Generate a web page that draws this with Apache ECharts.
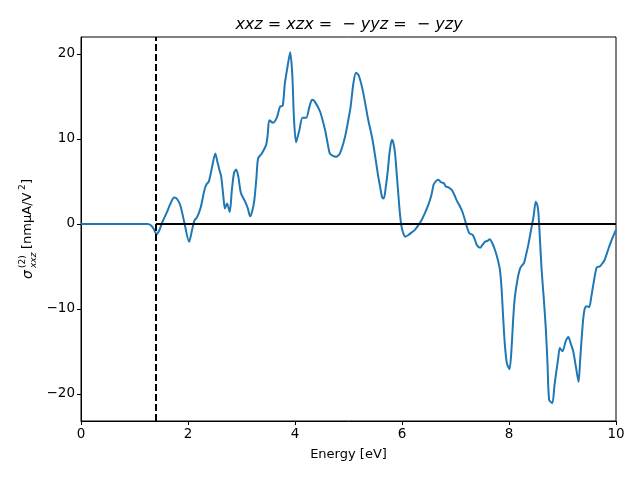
<!DOCTYPE html>
<html><head><meta charset="utf-8">
<script src="https://cdn.jsdelivr.net/npm/echarts@6/dist/echarts.min.js"></script>
<style>html,body{margin:0;padding:0;background:#fff}#c{width:640px;height:480px}</style>
</head><body><div id="c"></div>
<script>
const energy = [0,0.5,1.0,1.25,1.31,1.36,1.41,1.46,1.52,1.6,1.68,1.74,1.80,1.86,1.93,2.02,2.08,2.12,2.17,2.24,2.3,2.34,2.39,2.45,2.51,2.55,2.59,2.62,2.66,2.69,2.73,2.78,2.82,2.86,2.90,2.94,2.99,3.07,3.12,3.16,3.2,3.24,3.28,3.31,3.38,3.46,3.49,3.52,3.59,3.66,3.72,3.77,3.81,3.86,3.91,3.95,3.98,4.02,4.08,4.14,4.21,4.27,4.32,4.37,4.47,4.56,4.61,4.65,4.71,4.77,4.84,4.93,4.99,5.04,5.09,5.14,5.19,5.27,5.37,5.44,5.50,5.55,5.59,5.63,5.66,5.70,5.73,5.77,5.81,5.84,5.87,5.90,5.93,5.96,5.99,6.03,6.06,6.12,6.18,6.24,6.30,6.37,6.43,6.49,6.55,6.59,6.63,6.68,6.73,6.78,6.82,6.87,6.93,6.98,7.02,7.08,7.13,7.17,7.21,7.26,7.32,7.36,7.40,7.46,7.50,7.55,7.60,7.64,7.69,7.74,7.79,7.83,7.86,7.89,7.92,7.96,8.01,8.05,8.08,8.11,8.16,8.21,8.28,8.32,8.36,8.41,8.46,8.50,8.53,8.55,8.58,8.61,8.65,8.69,8.72,8.75,8.81,8.85,8.88,8.92,8.95,9.00,9.06,9.11,9.15,9.20,9.25,9.30,9.33,9.36,9.39,9.42,9.46,9.50,9.54,9.58,9.64,9.70,9.75,9.79,9.86,9.90,9.95,10.0];
const sigma = [0,0,0,0.0,-0.2,-0.6,-1.2,-0.8,0.2,1.3,2.5,3.1,2.9,2.1,0.2,-2.1,-0.6,0.4,0.8,2.0,3.8,4.6,5.0,6.7,8.3,7.3,6.3,5.6,3.3,1.8,2.4,1.4,4.0,6.0,6.4,5.6,3.6,2.6,1.8,0.9,1.5,2.8,5.5,7.7,8.3,9.3,10.5,12.2,11.9,12.5,13.8,13.9,16.5,18.5,20.2,17.5,12.5,9.6,11.0,12.5,12.5,13.8,14.6,14.4,13.2,11.1,9.5,8.3,8.0,7.9,8.3,10.1,12.0,13.8,16.5,17.8,17.5,15.6,12.2,10.2,7.9,5.8,4.4,3.1,3.0,4.5,6.0,8.5,9.9,9.5,8.3,6.0,3.6,1.3,-0.3,-1.2,-1.5,-1.3,-1.0,-0.7,-0.2,0.5,1.3,2.2,3.4,4.6,5.0,5.2,4.9,4.8,4.4,4.3,4.0,3.4,2.8,2.1,1.4,0.6,-0.3,-1.1,-1.3,-1.8,-2.5,-2.8,-2.5,-2.1,-2.0,-1.8,-2.3,-3.1,-4.2,-5.4,-7.5,-10.9,-14.0,-16.4,-17.1,-14.4,-11.0,-8.6,-6.5,-5.2,-4.6,-3.6,-2.5,-0.8,0.9,2.6,2.2,1.3,-2.0,-5.4,-8.8,-12.5,-16.5,-20.7,-21.1,-19.0,-17.6,-15.8,-14.6,-15.0,-13.8,-13.3,-14.0,-15.0,-16.8,-18.6,-16.0,-13.3,-11.0,-9.9,-9.7,-9.8,-8.5,-7.0,-5.1,-5.0,-4.6,-4.2,-2.9,-2.2,-1.4,-0.7];
const xTicks = [0,2,4,6,8,10];
const yTicks = [-20,-10,0,10,20];
const gapEnergy = 1.4;
const xEnd = 10;

const FONT = 'DejaVu Sans';
const chart = echarts.init(document.getElementById('c'), null, {renderer:'canvas'});
const fmt = v => String(v).replace('-', '\u2212');
chart.setOption({
  animation:false,
  backgroundColor:'#fff',
  title:{
    text:'{i|xxz} = {i|xzx} =  \u2212 {i|yyz} =  \u2212 {i|yzy}',
    left:344, textAlign:'center', top:12,
    textStyle:{fontFamily:FONT, fontSize:16, fontWeight:'normal', color:'#000',
      rich:{i:{fontFamily:FONT, fontSize:16, fontStyle:'italic', color:'#000'}}}
  },
  grid:{left:81, right:24, top:37, bottom:59, show:true, borderColor:'#000', borderWidth:1, backgroundColor:'transparent'},
  xAxis:{type:'value', min:0, max:10, interval:2,
    name:'Energy [eV]', nameLocation:'middle', nameGap:27,
    nameTextStyle:{fontFamily:FONT, fontSize:13, color:'#000'},
    axisLine:{show:true, onZero:false, lineStyle:{color:'#000', width:1}},
    axisTick:{show:true, inside:false, length:4, lineStyle:{color:'#000'}, customValues:xTicks},
    axisLabel:{fontFamily:FONT, fontSize:13.5, color:'#000', margin:6, customValues:xTicks, formatter:fmt},
    splitLine:{show:false}},
  yAxis:{type:'value', min:-23.2, max:22.0,
    axisLine:{show:true, onZero:false, lineStyle:{color:'#000', width:1}},
    axisTick:{show:true, inside:false, length:4, lineStyle:{color:'#000'}, customValues:yTicks},
    axisLabel:{fontFamily:FONT, fontSize:13.5, color:'#000', margin:6, customValues:yTicks, formatter:fmt},
    splitLine:{show:false}},
  series:[{
    type:'line', data:energy.map((e,i)=>[e, sigma[i]]), showSymbol:false, symbol:'none',
    smooth:0.25, lineStyle:{color:'#1f77b4', width:2}, z:2,
    markLine:{silent:true, symbol:['none','none'], label:{show:false}, animation:false,
      data:[
        [{coord:[gapEnergy,0], lineStyle:{type:'solid', color:'#000', width:2}}, {coord:[xEnd,0]}],
        {xAxis:gapEnergy, lineStyle:{type:[7,3], color:'#000', width:2}}
      ]}
  }],
  graphic:[{
    type:'group', x:28, y:229, rotation:Math.PI/2,
    children:[
      {type:'text', x:-50, y:0, style:{text:'\u03c3', font:'italic 14px "DejaVu Sans"', fill:'#000', align:'left', verticalAlign:'middle'}},
      {type:'text', x:-39, y:-5, style:{text:'(2)', font:'9px "DejaVu Sans"', fill:'#000', align:'left', verticalAlign:'middle'}},
      {type:'text', x:-39, y:6, style:{text:'xxz', font:'italic 9px "DejaVu Sans"', fill:'#000', align:'left', verticalAlign:'middle'}},
      {type:'text', x:-20, y:0, style:{text:'[nm\u03bcA/V', font:'13px "DejaVu Sans"', fill:'#000', align:'left', verticalAlign:'middle'}},
      {type:'text', x:39, y:-5, style:{text:'2', font:'9px "DejaVu Sans"', fill:'#000', align:'left', verticalAlign:'middle'}},
      {type:'text', x:45, y:0, style:{text:']', font:'13px "DejaVu Sans"', fill:'#000', align:'left', verticalAlign:'middle'}}
    ]
  }]
});
</script></body></html>
